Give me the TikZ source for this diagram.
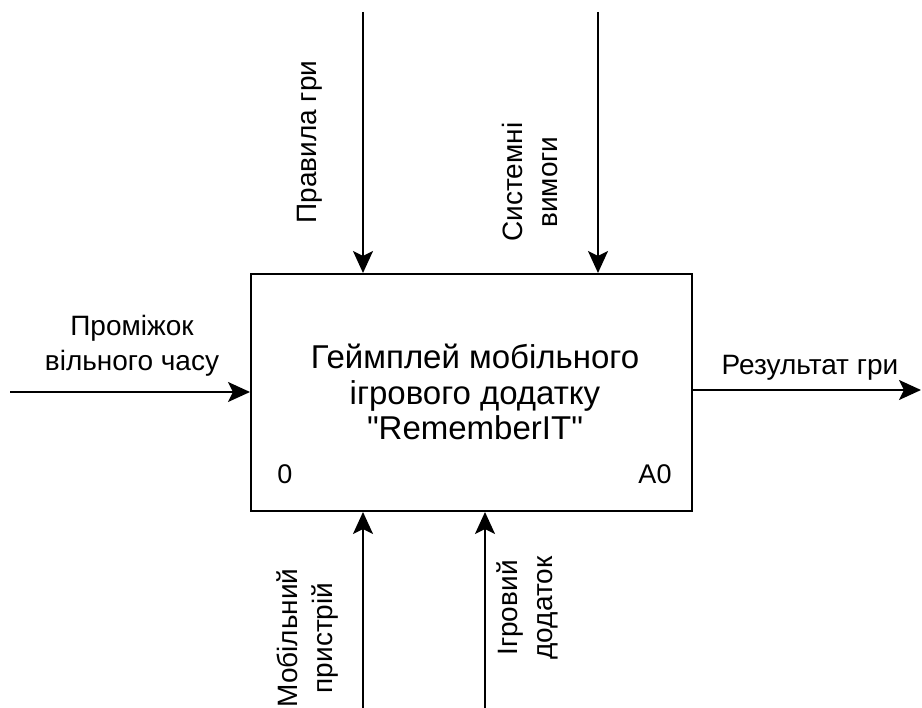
\documentclass[tikz,border=0pt]{standalone}
\usepackage{fontspec}
\setmainfont{Liberation Sans}
\newfontfamily\qfont{Liberation Sans}
\usetikzlibrary{arrows.meta}
\begin{document}
\begin{tikzpicture}[x=1pt,y=-1pt,
  lbl/.style={align=center,font=\fontsize{28}{35}\selectfont,inner sep=0pt},
  corner/.style={font=\fontsize{27}{30}\selectfont,inner sep=0pt},
  flow/.style={line width=2pt,-{Stealth[length=22pt,width=20pt,inset=5pt]}},
  ]
\useasboundingbox (0,0) rectangle (922,708);
\node[draw,line width=2pt,minimum width=441pt,minimum height=237pt,anchor=north west,inner sep=0pt] (box) at (250,273) {};
\node[align=center,font=\fontsize{33}{35.5}\selectfont,inner sep=0pt] (title) at (475,392) {Геймплей мобільного\\ігрового додатку\\{\qfont"}RememberIT{\qfont"}};
\node[corner] (n0) at (285,474) {0};
\node[corner] (a0) at (655,474) {A0};
\coordinate (i1) at (10,392);
\coordinate (o1) at (921,390);
\coordinate (c1) at (363,12);
\coordinate (c2) at (598,12);
\coordinate (m1) at (363,708);
\coordinate (m2) at (485,708);
\draw[flow] (i1) -- (box.west |- i1);
\draw[flow] (box.east |- o1) -- (o1);
\draw[flow] (c1) -- (c1 |- box.north);
\draw[flow] (c2) -- (c2 |- box.north);
\draw[flow] (m1) -- (m1 |- box.south);
\draw[flow] (m2) -- (m2 |- box.south);
\node[lbl] (li) at (132,346) {Проміжок\\вільного часу};
\node[lbl] (lo) at (810,368) {Результат гри};
\node[lbl,rotate=90] (lc1) at (310,142) {Правила гри};
\node[lbl,rotate=90] (lc2) at (530,182) {Системні\\вимоги};
\node[lbl,rotate=90] (lm1) at (308,638) {Мобільний\\пристрій};
\node[lbl,rotate=90] (lm2) at (527,608) {Ігровий\\додаток};
\end{tikzpicture}
\end{document}
